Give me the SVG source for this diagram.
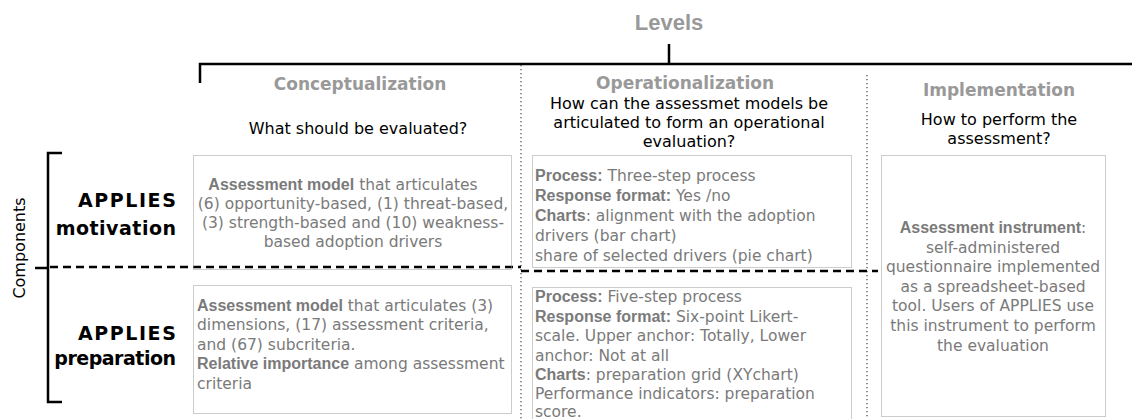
<svg xmlns="http://www.w3.org/2000/svg" width="1132" height="419" viewBox="0 0 1132 419">
<style>
.hdr{font-family:"DejaVu Sans",sans-serif;font-weight:bold;font-size:17px;fill:#999;text-anchor:middle}
.q{font-family:"DejaVu Sans",sans-serif;font-size:16px;fill:#000;text-anchor:middle}
.comp{font-family:"DejaVu Sans",sans-serif;font-weight:bold;font-size:19px;fill:#000;text-anchor:end}
.bt{font-family:"DejaVu Sans",sans-serif;font-size:15.5px;fill:#7a7a7a}
.c{text-anchor:middle}
.b{font-family:"Liberation Sans",Arial,sans-serif;font-weight:bold;font-size:16px}
.box{fill:none;stroke:#999;stroke-width:1;stroke-dasharray:1 1}
.sep{fill:none;stroke:#555;stroke-width:1.3;stroke-dasharray:1.3 2.7}
.solid{fill:none;stroke:#000;stroke-width:2.5}
</style>
<rect width="1132" height="419" fill="#fff"/>
<g id="levels">
<text x="669" y="30" style="font-family:'Liberation Sans',Arial,sans-serif;font-weight:bold;font-size:22px;fill:#999" text-anchor="middle">Levels</text>
</g>
<g id="connectors">
<path class="solid" d="M669,44 V64 M200,83 V64 H1132"/>
<path class="solid" d="M62,153 H48 V402 H62 M35,268 H48"/>
<path class="sep" d="M521,65 V419 M867,75 V419"/>
<path fill="none" stroke="#000" stroke-width="2.5" stroke-dasharray="8 5" d="M50,267 H521 M521,271 H878"/>
</g>
<g id="components">
<text transform="translate(25,248) rotate(-90)" style="font-family:'DejaVu Sans',sans-serif;font-size:16px;fill:#000" text-anchor="middle">Components</text>
</g>
<g id="hdr-conceptualization">
<text class="hdr" x="360" y="90">Conceptualization</text>
<text class="q" x="358" y="134">What should be evaluated?</text>
</g>
<g id="hdr-operationalization">
<text class="hdr" x="685" y="89">Operationalization</text>
<text class="q" x="689" y="109">How can the assessmet models be</text>
<text class="q" x="689" y="128">articulated to form an operational</text>
<text class="q" x="689" y="147">evaluation?</text>
</g>
<g id="hdr-implementation">
<text class="hdr" x="999" y="96">Implementation</text>
<text class="q" x="999" y="125">How to perform the</text>
<text class="q" x="999" y="144">assessment?</text>
</g>
<g id="applies-motivation">
<text class="comp" x="177.5" y="207" letter-spacing="1.6">APPLIES</text>
<text class="comp" x="176.5" y="235" letter-spacing="0.5">motivation</text>
</g>
<g id="applies-preparation">
<text class="comp" x="177.5" y="340" letter-spacing="1.6">APPLIES</text>
<text class="comp" x="175.5" y="365" letter-spacing="-0.5">preparation</text>
</g>
<g id="box-concept-motivation">
<rect class="box" x="193.5" y="155.5" width="318" height="114"/>
<text class="bt c" x="343" y="190"><tspan class="b">Assessment model</tspan> that articulates</text>
<text class="bt c" x="353" y="209">(6) opportunity-based, (1) threat-based,</text>
<text class="bt c" x="353" y="228">(3) strength-based and (10) weakness-</text>
<text class="bt c" x="353" y="247">based adoption drivers</text>
</g>
<g id="box-concept-preparation">
<rect class="box" x="193.5" y="285.5" width="318" height="128"/>
<text class="bt" x="197" y="311"><tspan class="b">Assessment model</tspan> that articulates (3)</text>
<text class="bt" x="197" y="330">dimensions, (17) assessment criteria,</text>
<text class="bt" x="197" y="350">and (67) subcriteria.</text>
<text class="bt" x="197" y="369"><tspan class="b">Relative importance</tspan> among assessment</text>
<text class="bt" x="197" y="389">criteria</text>
</g>
<g id="box-oper-motivation">
<rect class="box" x="532.5" y="155.5" width="319" height="112"/>
<text class="bt" x="535" y="181"><tspan class="b">Process:</tspan> Three-step process</text>
<text class="bt" x="535" y="201"><tspan class="b">Response format:</tspan> Yes /no</text>
<text class="bt" x="535" y="221"><tspan class="b">Charts</tspan>:  alignment with the adoption</text>
<text class="bt" x="535" y="241">drivers (bar chart)</text>
<text class="bt" x="535" y="261">share of selected drivers (pie chart)</text>
</g>
<g id="box-oper-preparation">
<rect class="box" x="532.5" y="287.5" width="319" height="140"/>
<text class="bt" x="535" y="302"><tspan class="b">Process:</tspan> Five-step process</text>
<text class="bt" x="535" y="321.5"><tspan class="b">Response format:</tspan> Six-point Likert-</text>
<text class="bt" x="535" y="341">scale.  Upper anchor: Totally, Lower</text>
<text class="bt" x="535" y="360.5">anchor: Not at all</text>
<text class="bt" x="535" y="380"><tspan class="b">Charts</tspan>:  preparation grid (XYchart)</text>
<text class="bt" x="535" y="399">Performance indicators: preparation</text>
<text class="bt" x="535" y="417">score.</text>
</g>
<g id="box-implementation">
<rect class="box" x="881.5" y="155.5" width="224" height="261"/>
<text class="bt c" x="993" y="233"><tspan class="b">Assessment instrument</tspan>:</text>
<text class="bt c" x="993" y="253">self-administered</text>
<text class="bt c" x="993" y="272">questionnaire implemented</text>
<text class="bt c" x="993" y="292">as a spreadsheet-based</text>
<text class="bt c" x="993" y="311">tool. Users of APPLIES use</text>
<text class="bt c" x="993" y="331">this instrument to perform</text>
<text class="bt c" x="993" y="351">the evaluation</text>
</g>
</svg>
